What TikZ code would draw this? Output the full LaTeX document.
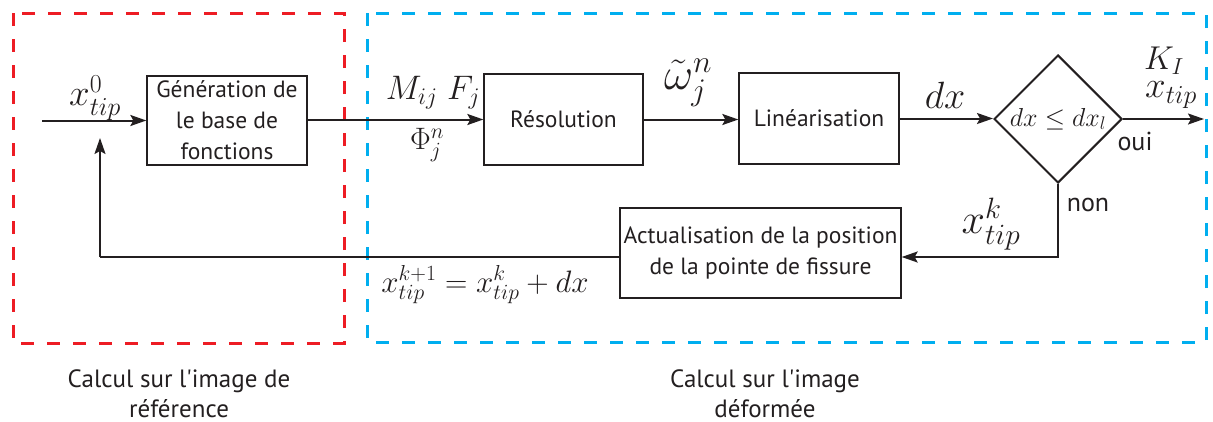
\RequirePackage{fix-cm}
\documentclass[tikz,border=0pt]{standalone}
\usepackage{fontspec}
\setsansfont{PT Sans}
\usetikzlibrary{shapes.geometric,arrows.meta}
\definecolor{dred}{RGB}{237,28,36}
\definecolor{dblue}{RGB}{0,174,239}
\definecolor{ink}{RGB}{35,31,32}
\newcommand{\fsz}[1]{\fontsize{#1}{#1}\selectfont}
\begin{document}
\begin{tikzpicture}[x=1pt,y=-1pt,
  blockbox/.style={draw=ink,line width=1.3pt,inner sep=0pt,align=center,text=ink,
    font=\sffamily\fontsize{23.5}{31}\selectfont},
  arr/.style={draw=ink,line width=2pt,-{Stealth[length=16pt,width=11pt,inset=3pt]}},
  plainline/.style={draw=ink,line width=2pt},
  mathlbl/.style={inner sep=0pt,text=ink,font=\fsz{34}},
  txtlbl/.style={inner sep=0pt,text=ink,font=\sffamily\fsz{26}},
  captiontxt/.style={inner sep=0pt,text=ink,align=center,font=\sffamily\fontsize{25}{30}\selectfont},
  framedash/.style={line width=3pt,dash pattern=on 13pt off 13pt}]
\useasboundingbox (0,0) rectangle (1213,421);
% frames
\draw[framedash,dred] (13,13) rectangle (344,343);
\draw[framedash,dblue] (367,13) rectangle (1206,342);
% blocks
\node[blockbox,minimum width=160,minimum height=89] (gen) at (227,120.5) {Génération de\\le base de\\fonctions};
\node[blockbox,minimum width=159,minimum height=91] (res) at (563.5,119.5) {Résolution};
\node[blockbox,minimum width=160,minimum height=91] (lin) at (819,118.5) {Linéarisation};
\node[draw=ink,line width=2pt,diamond,aspect=1,inner sep=0pt,minimum width=128,minimum height=128,
      font=\fsz{26},text=ink] (dec) at (1058,119) {$dx \leq dx_l$};
\node[blockbox,minimum width=281,minimum height=90] (act) at (760.5,253) {Actualisation de la position\\de la pointe de fissure};
% coordinates
\coordinate (in) at (42,120.5);
\coordinate (out) at (1204,119);
\coordinate (fbR) at (1058,257);
\coordinate (fbL) at (100,257);
\coordinate (fbEnd) at (100,138);
% connectors
\draw[arr] (in) -- (gen.west);
\draw[arr] (gen.east |- res.west) -- (res.west);
\draw[arr] (res.east) -- (res.east -| lin.west);
\draw[arr] (lin.east) -- (lin.east -| dec.west);
\draw[arr] (dec.east) -- (out);
\draw[arr] (dec.south) -- (fbR) -- (fbR -| act.east);
\draw[plainline] (fbR -| act.west) -- (fbL);
\draw[arr] (fbL) -- (fbEnd);
% labels
\node[mathlbl,font=\fsz{37}] (l0) at (95,98) {$x_{tip}^{0}$};
\node[mathlbl] (lM) at (433,93) {$M_{ij}\;F_j$};
\node[mathlbl,font=\fsz{31}] (lP) at (427,145) {$\Phi_j^n$};
\node[mathlbl,font=\fsz{45}] (lw) at (688,83) {$\tilde{\omega}_j^n$};
\node[mathlbl,font=\fsz{38}] (ldx) at (945,95) {$dx$};
\node[mathlbl,font=\fsz{33}] (lK) at (1164,61) {$K_I$};
\node[mathlbl,font=\fsz{37}] (lx) at (1171,95) {$x_{tip}$};
\node[txtlbl] (oui) at (1135,141) {oui};
\node[txtlbl] (non) at (1088,205) {non};
\node[mathlbl,font=\fsz{42}] (lk) at (991,224) {$x_{tip}^{k}$};
\node[mathlbl,font=\fsz{31}] (leq) at (485,285) {$x_{tip}^{k+1} = x_{tip}^{k} + dx$};
\node[captiontxt] (c1) at (179,394) {Calcul sur l\textquotesingle image de\\référence};
\node[captiontxt] (c2) at (765,394) {Calcul sur l\textquotesingle image\\déformée};
\end{tikzpicture}
\end{document}
